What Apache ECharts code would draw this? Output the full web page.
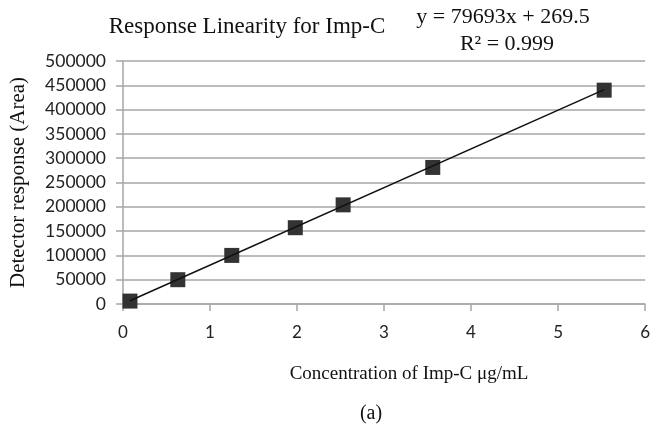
<!DOCTYPE html>
<html>
<head>
<meta charset="utf-8">
<script src="https://cdn.jsdelivr.net/npm/echarts@6/dist/echarts.min.js"></script>
<style>
html,body{margin:0;padding:0;background:#fff;}
#chart{width:653px;height:428px;}
</style>
</head>
<body>
<div id="chart"></div>
<script>
// Data
var concentration = [0.08, 0.63, 1.25, 1.98, 2.53, 3.56, 5.53];
var response = [6000, 50000, 100000, 157000, 204000, 281000, 440000];
// Trend line endpoints (y = 79693x + 269.5)
var trendX = [0.08, 5.53];
var trendY = [6645, 440972];
var xTicks = [0, 1, 2, 3, 4, 5, 6];
var yTicks = [0, 50000, 100000, 150000, 200000, 250000, 300000, 350000, 400000, 450000, 500000];

var titleText = 'Response Linearity for Imp-C';
var eqText = 'y = 79693x + 269.5';
var r2Text = 'R\u00b2 = 0.999';
var xName = 'Concentration of Imp-C \u03bcg/mL';
var yName = 'Detector response (Area)';
var panelLabel = '(a)';

var chart = echarts.init(document.getElementById('chart'), null, {renderer: 'canvas'});
var serif = 'Liberation Serif, Times New Roman, serif';
var sans = 'Lato, Carlito, sans-serif';
var gridCol = '#a6a6a6';

var option = {
  backgroundColor: '#fff',
  animation: false,
  grid: {left: 122, right: 7, top: 61, bottom: 124, containLabel: false},
  graphic: [
    {type: 'text', style: {text: titleText, font: '23px ' + serif, fill: '#111', textAlign: 'center', textVerticalAlign: 'middle'}, position: [247, 27]},
    {type: 'text', style: {text: eqText, font: '22px ' + serif, fill: '#111', textAlign: 'center', textVerticalAlign: 'middle'}, position: [503, 17]},
    {type: 'text', style: {text: r2Text, font: '22px ' + serif, fill: '#111', textAlign: 'center', textVerticalAlign: 'middle'}, position: [507, 44]},
    {type: 'text', style: {text: xName, font: '19px ' + serif, fill: '#111', textAlign: 'center', textVerticalAlign: 'middle'}, position: [409, 374]},
    {type: 'text', style: {text: panelLabel, font: '20px ' + serif, fill: '#111', textAlign: 'center', textVerticalAlign: 'middle'}, position: [371, 414]}
  ],
  xAxis: {
    type: 'value', min: 0, max: 6, interval: 1,
    axisLine: {show: true, onZero: false, lineStyle: {color: gridCol, width: 1.5}},
    axisTick: {show: true, length: 7, lineStyle: {color: gridCol, width: 1.5}},
    axisLabel: {margin: 20, fontFamily: sans, fontSize: 17, color: '#222',
      formatter: function (v) { return xTicks.indexOf(v) >= 0 ? String(v) : ''; }},
    splitLine: {show: false}
  },
  yAxis: {
    type: 'value', min: 0, max: 500000, interval: 50000,
    name: yName, nameLocation: 'middle', nameGap: 94, nameRotate: 90,
    nameTextStyle: {fontFamily: serif, fontSize: 21, color: '#111'},
    axisLine: {show: true, lineStyle: {color: gridCol, width: 1.5}},
    axisTick: {show: true, length: 7, lineStyle: {color: gridCol, width: 1.5}},
    axisLabel: {margin: 17, fontFamily: sans, fontSize: 17.5, color: '#222',
      formatter: function (v) { return yTicks.indexOf(v) >= 0 ? String(v) : ''; }},
    splitLine: {show: true, lineStyle: {color: gridCol, width: 1.5}}
  },
  series: [
    {
      type: 'line', data: trendX.map(function (x, i) { return [x, trendY[i]]; }),
      showSymbol: false, symbol: 'none', lineStyle: {color: '#111', width: 1.5}, z: 3, silent: true
    },
    {
      type: 'scatter', data: concentration.map(function (x, i) { return [x, response[i]]; }),
      symbol: 'rect', symbolSize: 15, itemStyle: {color: '#333333', opacity: 1}, z: 2
    }
  ]
};
chart.setOption(option);
</script>
</body>
</html>
